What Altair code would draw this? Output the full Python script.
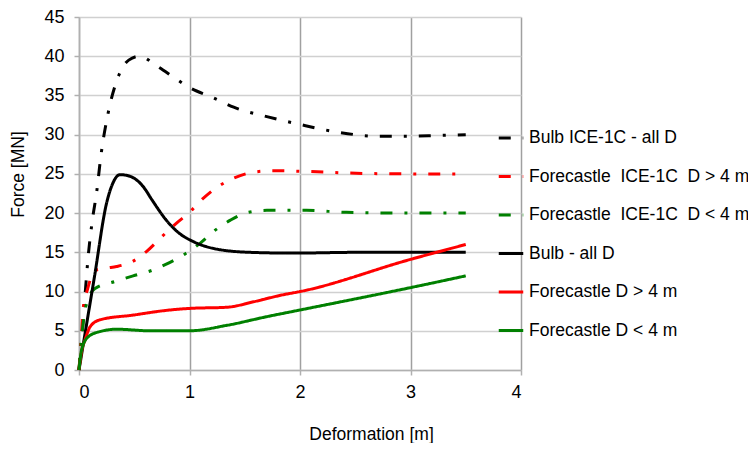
import altair as alt
import pandas as pd

series_names = [
    "Bulb ICE-1C - all D",
    "Forecastle\u00a0 ICE-1C\u00a0 D > 4 m",
    "Forecastle\u00a0 ICE-1C\u00a0 D < 4 m",
    "Bulb - all D",
    "Forecastle D > 4 m",
    "Forecastle D < 4 m",
]
series_colors = ["#000000", "#ff0000", "#008000", "#000000", "#ff0000", "#008000"]

bulb_ice_x = [0, 0.03, 0.06, 0.08, 0.12, 0.16, 0.2, 0.26, 0.35, 0.45, 0.55, 0.7, 0.87, 1.0, 1.2, 1.4, 1.7, 2.0, 2.35, 2.7, 3.0, 3.25, 3.5]
bulb_ice_y = [0, 5, 10.5, 14, 19, 22.7, 27.5, 32.5, 37.2, 39.5, 40, 38.8, 37.2, 36, 34.8, 33.5, 32.3, 31.3, 30.3, 29.8, 29.8, 29.9, 30]

red_ice_x = [0, 0.02, 0.04, 0.075, 0.145, 0.25, 0.34, 0.48, 0.61, 0.75, 0.88, 1.0, 1.11, 1.26, 1.4, 1.57, 1.76, 2.09, 2.45, 3.0, 3.5]
red_ice_y = [0, 4, 8.1, 10.2, 12.7, 13.0, 13.2, 13.8, 15.1, 17, 18.7, 20.1, 21.7, 23.4, 24.45, 25.2, 25.4, 25.3, 25.1, 25.0, 25.0]

green_ice_x = [0, 0.03, 0.06, 0.145, 0.33, 0.49, 0.66, 0.79, 0.96, 1.1, 1.23, 1.37, 1.53, 1.7, 2.06, 2.42, 3.0, 3.5]
green_ice_y = [0, 5, 8, 10.4, 11.3, 12.0, 12.7, 13.5, 14.8, 16.2, 17.8, 19.1, 20.1, 20.35, 20.35, 20.1, 20.0, 20.0]

bulb_x = [0, 0.14, 0.25, 0.3, 0.37, 0.46, 0.58, 0.66, 0.79, 0.91, 1.03, 1.25, 1.55, 1.94, 2.5, 3.0, 3.5]
bulb_y = [0, 11.9, 21.3, 23.6, 24.9, 24.7, 23.4, 21.7, 19.1, 17.4, 16.4, 15.4, 15.0, 14.9, 15.0, 15.0, 15.0]

red_x = [0, 0.025, 0.054, 0.1, 0.19, 0.49, 0.79, 1.0, 1.34, 1.58, 1.85, 2.0, 3.0, 3.5]
red_y = [0, 2.5, 3.8, 5.5, 6.4, 7.0, 7.6, 7.85, 8.0, 8.7, 9.6, 10.0, 14.1, 16.0]

green_x = [0, 0.024, 0.085, 0.19, 0.34, 0.64, 1.0, 1.34, 1.7, 2.0, 3.0, 3.5]
green_y = [0, 2.6, 4.25, 4.9, 5.2, 5.0, 5.0, 5.7, 6.8, 7.65, 10.5, 12.0]

x_ticks = [0, 1, 2, 3, 4]
y_ticks = [0, 5, 10, 15, 20, 25, 30, 35, 40, 45]

all_x = [bulb_ice_x, red_ice_x, green_ice_x, bulb_x, red_x, green_x]
all_y = [bulb_ice_y, red_ice_y, green_ice_y, bulb_y, red_y, green_y]

rows = []
for name, xs, ys in zip(series_names, all_x, all_y):
    for i, (xv, yv) in enumerate(zip(xs, ys)):
        rows.append({"series": name, "x": xv, "y": yv, "order": i})
df = pd.DataFrame(rows)

dash_dot = [12, 12, 3, 12]
solid = [1, 0]
dash_range = [dash_dot, dash_dot, dash_dot, solid, solid, solid]

legend_opts = dict(title=None, orient="none", legendX=418, legendY=107,
                   symbolType="stroke", symbolSize=600,
                   symbolStrokeWidth=3, labelFontSize=17.5,
                   labelFont="Liberation Sans", labelColor="#000000",
                   rowPadding=15.5, labelOffset=4, labelLimit=400)

chart = alt.Chart(df).mark_line(strokeWidth=3, interpolate="monotone").encode(
    x=alt.X("x:Q", scale=alt.Scale(domain=[0, 4], nice=False),
            axis=alt.Axis(values=x_ticks, title="Deformation [m]", format="d",
                          titleX=292, titleY=69, titleBaseline="alphabetic",
                          titleAnchor="start", titleAlign="center")),
    y=alt.Y("y:Q", scale=alt.Scale(domain=[0, 45], nice=False),
            axis=alt.Axis(values=y_ticks, title="Force [MN]", format="d",
                          titleX=-61, titleY=157, titleBaseline="middle",
                          titleAlign="center", titleAnchor="start")),
    color=alt.Color("series:N", scale=alt.Scale(domain=series_names, range=series_colors),
                    legend=alt.Legend(**legend_opts)),
    strokeDash=alt.StrokeDash("series:N", scale=alt.Scale(domain=series_names, range=dash_range),
                              legend=alt.Legend(**legend_opts)),
    order="order:Q",
).properties(
    width=442, height=353,
    autosize=alt.AutoSizeParams(type="none"),
    padding={"left": 71, "top": 9, "right": 227, "bottom": 73},
).configure_view(stroke=None).configure_axis(
    labelFont="Liberation Sans", titleFont="Liberation Sans",
    labelFontSize=18, titleFontSize=17.5, titleFontWeight="normal",
    labelColor="#000000", titleColor="#000000",
    gridColor="#d0d0d0", gridWidth=1.5, domainColor="#b0b0b0", domainWidth=1.5,
    tickColor="#b0b0b0", tickSize=5, tickWidth=1.5,
).configure_axisX(
    gridColor="#a0a0a0", labelPadding=8,
).configure_axisY(
    labelPadding=10,
)

chart.save("out.html", embed_options={"renderer": "svg", "actions": False})
